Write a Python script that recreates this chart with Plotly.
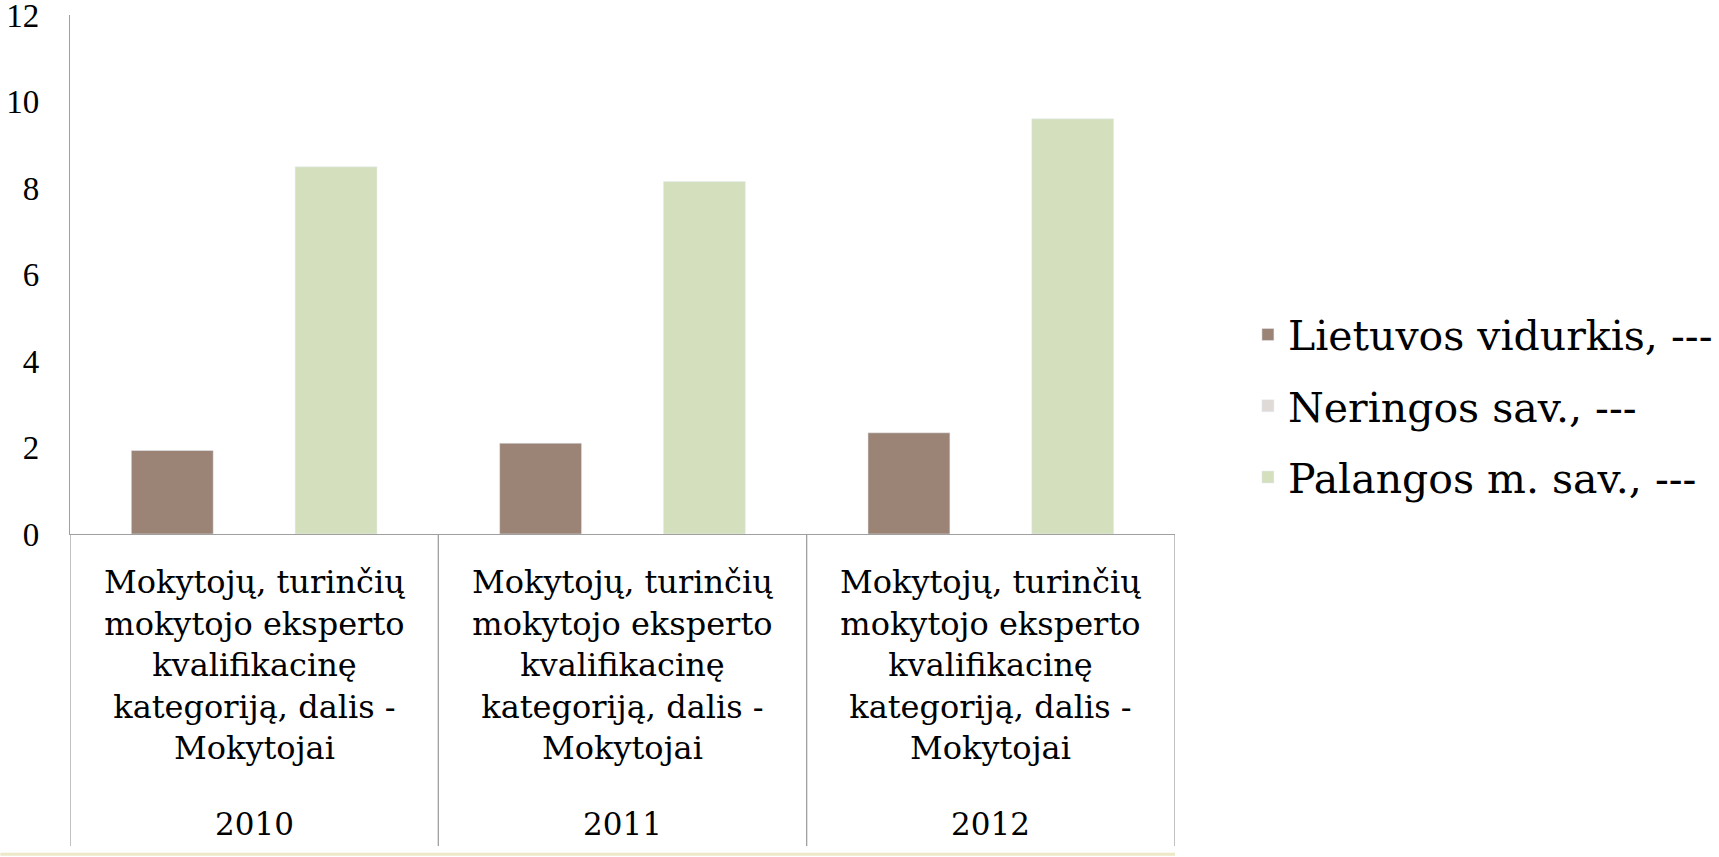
import plotly.graph_objects as go

years = ["2010", "2011", "2012"]
category_label = "Mokytojų, turinčių<br>mokytojo eksperto<br>kvalifikacinę<br>kategoriją, dalis -<br>Mokytojai"
series_names = ["Lietuvos vidurkis, ---", "Neringos sav., ---", "Palangos m. sav., ---"]
lietuvos = [1.93, 2.1, 2.34]
neringos = [None, None, None]
palangos = [8.49, 8.15, 9.6]
colors = ["#9B8476", "#E0DAD6", "#D4DFBE"]
y_ticks = [0, 2, 4, 6, 8, 10, 12]

FONT = "DejaVu Serif"

fig = go.Figure()
for i, (name, vals) in enumerate(zip(series_names, [lietuvos, neringos, palangos])):
    fig.add_trace(go.Bar(x=years, y=vals, name=name, marker_color=colors[i],
                         legendgroup=f"g{i}"))

shapes = []
# category dividers extending below axis
for xv in [-0.5, 0.5, 1.5, 2.5]:
    shapes.append(dict(type="line", xref="x", yref="paper", x0=xv, x1=xv,
                       y0=0, y1=-0.601, line=dict(color="#A0A0A0", width=1.3)))
# bottom decorative line
shapes.append(dict(type="line", xref="paper", yref="paper", x0=-0.063, x1=1.0,
                   y0=-0.617, y1=-0.617, line=dict(color="#ECE8C8", width=3)))

annotations = []
for idx, yr in enumerate(years):
    annotations.append(dict(x=idx, xref="x", y=-0.252, yref="paper", text=category_label,
                            showarrow=False, yanchor="middle", align="center",
                            font=dict(family=FONT, size=32, color="black")))
    annotations.append(dict(x=idx, xref="x", y=-0.559, yref="paper", text=yr,
                            showarrow=False, yanchor="middle",
                            font=dict(family=FONT, size=31, color="black")))

fig.update_layout(
    width=1719, height=857,
    margin=dict(l=70, r=544, t=15, b=323, autoexpand=False),
    paper_bgcolor="white", plot_bgcolor="white",
    barmode="group", bargap=0.333, bargroupgap=0,
    font=dict(family=FONT, color="black"),
    xaxis=dict(type="category", showticklabels=False, showline=True,
               linecolor="#A0A0A0", linewidth=1.3, ticks="", showgrid=False,
               range=[-0.5, 2.5], zeroline=False, automargin=False),
    yaxis=dict(range=[0, 12], tickvals=y_ticks, showgrid=False, zeroline=False,
               showline=True, linecolor="#A0A0A0", linewidth=1.3, ticks="",
               ticklabelstandoff=23, ticklabeloverflow="allow", automargin=False,
               tickfont=dict(family="Liberation Serif", size=33, color="black")),
    legend=dict(x=1.066, xanchor="left", y=0.247, yanchor="middle",
                font=dict(family=FONT, size=41, color="black"),
                tracegroupgap=15, bgcolor="rgba(0,0,0,0)"),
    shapes=shapes, annotations=annotations,
    showlegend=True,
)

fig.write_html("out.html", config={"displayModeBar": False},
               post_script="document.body.style.margin='0';")
